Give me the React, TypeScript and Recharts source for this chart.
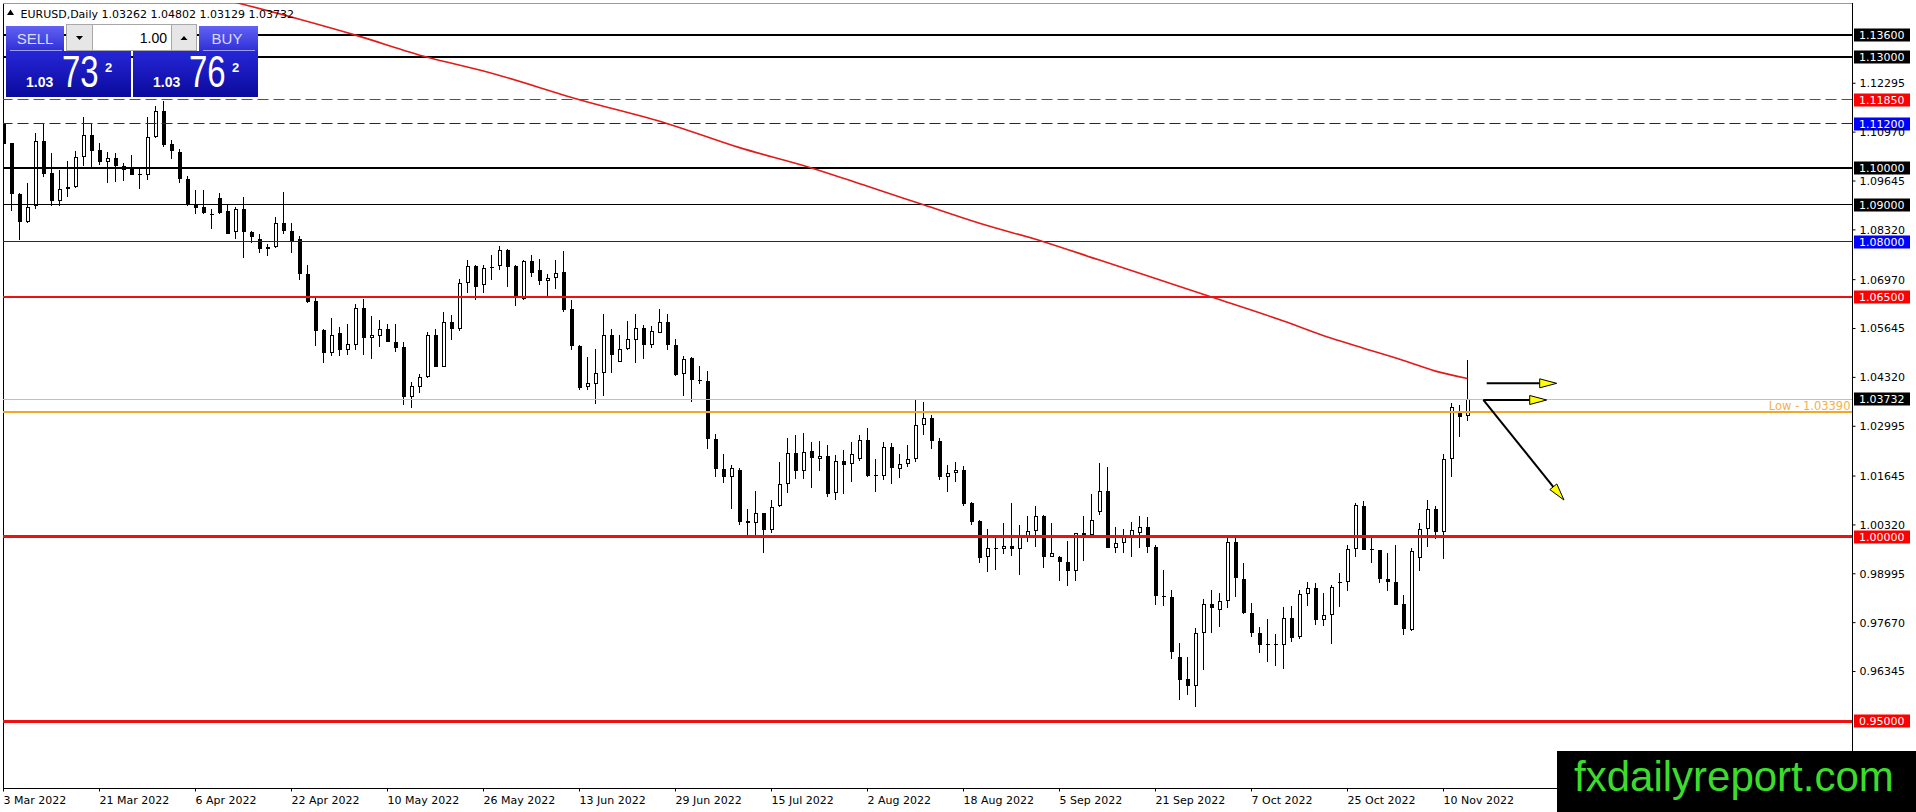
import React from 'react';
import { ComposedChart, Bar, Line, XAxis, YAxis, ReferenceLine } from 'recharts';

// ---- EURUSD daily candles (index 0 = 3 Mar 2022) ----
const opens = [
  1.1119, 1.1067, 1.0928, 1.0853, 1.0898, 1.1074, 1.0985, 1.0911, 1.0943, 1.0948,
  1.1029, 1.1090, 1.1049, 1.1015, 1.1027, 1.1006, 1.0997, 1.0984, 1.0980, 1.1083,
  1.1154, 1.1065, 1.1044, 1.0970, 1.0903, 1.0893, 1.0875, 1.0919, 1.0882, 1.0827,
  1.0888, 1.0827, 1.0808, 1.0781, 1.0785, 1.0851, 1.0829, 1.0807, 1.0711, 1.0638,
  1.0560, 1.0497, 1.0553, 1.0507, 1.0520, 1.0621, 1.0540, 1.0543, 1.0562, 1.0527,
  1.0514, 1.0379, 1.0405, 1.0433, 1.0548, 1.0461, 1.0583, 1.0564, 1.0689, 1.0735,
  1.0682, 1.0732, 1.0734, 1.0778, 1.0733, 1.0645, 1.0747, 1.0722, 1.0693, 1.0702,
  1.0717, 1.0617, 1.0516, 1.0405, 1.0415, 1.0445, 1.0548, 1.0475, 1.0510, 1.0533,
  1.0567, 1.0521, 1.0553, 1.0581, 1.0519, 1.0440, 1.0484, 1.0424, 1.0421, 1.0264,
  1.0183, 1.0163, 1.0181, 1.0043, 1.0037, 1.0064, 1.0017, 1.0084, 1.0142, 1.0226,
  1.0179, 1.0232, 1.0212, 1.0220, 1.0118, 1.0205, 1.0196, 1.0212, 1.0262, 1.0167,
  1.0165, 1.0244, 1.0183, 1.0196, 1.0212, 1.0302, 1.0321, 1.0259, 1.0163, 1.0172,
  1.0181, 1.0091, 1.0042, 0.9944, 0.9969, 0.9966, 0.9975, 0.9966, 0.9998, 1.0016,
  1.0056, 0.9946, 0.9946, 0.9931, 0.9906, 1.0009, 1.0005, 1.0066, 1.0124, 0.9969,
  0.9982, 0.9998, 1.0011, 1.0026, 0.9973, 0.9840, 0.9836, 0.9674, 0.9613, 0.9594,
  0.9739, 0.9817, 0.9800, 0.9825, 0.9985, 0.9885, 0.9793, 0.9739, 0.9710, 0.9707,
  0.9707, 0.9779, 0.9728, 0.9844, 0.9861, 0.9775, 0.9788, 0.9874, 0.9877, 0.9968,
  1.0083, 0.9968, 0.9963, 0.9885, 0.9877, 0.9818, 0.9748, 0.9942, 1.0020, 1.0074,
  1.0013, 1.0210, 1.0336, 1.03262,
];
const highs = [
  1.1122, 1.1068, 1.0931, 1.0958, 1.1094, 1.1120, 1.1041, 1.0993, 1.1020, 1.1047,
  1.1137, 1.1119, 1.1068, 1.1043, 1.1041, 1.1014, 1.1036, 1.0997, 1.1137, 1.1169,
  1.1181, 1.1076, 1.1051, 1.0979, 1.0939, 1.0939, 1.0888, 1.0932, 1.0903, 1.0894,
  1.0922, 1.0830, 1.0821, 1.0794, 1.0866, 1.0935, 1.0851, 1.0816, 1.0737, 1.0652,
  1.0562, 1.0594, 1.0569, 1.0578, 1.0632, 1.0644, 1.0599, 1.0587, 1.0576, 1.0578,
  1.0529, 1.0420, 1.0442, 1.0555, 1.0564, 1.0609, 1.0600, 1.0698, 1.0749, 1.0737,
  1.0737, 1.0763, 1.0787, 1.0780, 1.0738, 1.0749, 1.0765, 1.0752, 1.0713, 1.0749,
  1.0774, 1.0643, 1.0521, 1.0488, 1.0510, 1.0605, 1.0562, 1.0546, 1.0585, 1.0605,
  1.0573, 1.0571, 1.0617, 1.0605, 1.0535, 1.0489, 1.0486, 1.0463, 1.0449, 1.0278,
  1.0223, 1.0194, 1.0185, 1.0075, 1.0124, 1.0064, 1.0100, 1.0202, 1.0269, 1.0276,
  1.0280, 1.0257, 1.0259, 1.0250, 1.0221, 1.0235, 1.0256, 1.0277, 1.0294, 1.0210,
  1.0256, 1.0253, 1.0224, 1.0248, 1.0370, 1.0365, 1.0330, 1.0269, 1.0194, 1.0203,
  1.0193, 1.0095, 1.0045, 1.0021, 0.9996, 1.0036, 1.0092, 1.0032, 1.0056, 1.0082,
  1.0059, 1.0036, 0.9948, 0.9989, 1.0011, 1.0056, 1.0116, 1.0201, 1.0188, 1.0026,
  1.0020, 1.0041, 1.0056, 1.0053, 0.9978, 0.9910, 0.9856, 0.9712, 0.9674, 0.9752,
  0.9831, 0.9856, 0.9847, 0.9998, 0.9998, 0.9928, 0.9820, 0.9755, 0.9777, 0.9737,
  0.9809, 0.9813, 0.9856, 0.9877, 0.9874, 0.9847, 0.9868, 0.9901, 0.9978, 1.0092,
  1.0097, 0.9996, 0.9963, 0.9955, 0.9978, 0.9842, 0.9969, 1.0038, 1.0100, 1.0083,
  1.0224, 1.0363, 1.0357, 1.04802,
];
const lows = [
  1.1032, 1.0883, 1.0804, 1.0850, 1.0888, 1.0975, 1.0898, 1.0897, 1.0922, 1.0946,
  1.1004, 1.1000, 1.1008, 1.0958, 1.0961, 1.0964, 1.0980, 1.0942, 1.0967, 1.1081,
  1.1058, 1.1025, 1.0958, 1.0897, 1.0874, 1.0875, 1.0835, 1.0874, 1.0820, 1.0806,
  1.0755, 1.0796, 1.0770, 1.0762, 1.0783, 1.0821, 1.0770, 1.0697, 1.0635, 1.0516,
  1.0471, 1.0490, 1.0491, 1.0493, 1.0507, 1.0493, 1.0483, 1.0515, 1.0528, 1.0501,
  1.0357, 1.0350, 1.0391, 1.0429, 1.0461, 1.0459, 1.0533, 1.0558, 1.0662, 1.0643,
  1.0661, 1.0697, 1.0722, 1.0677, 1.0626, 1.0643, 1.0704, 1.0682, 1.0652, 1.0673,
  1.0609, 1.0507, 1.0397, 1.0397, 1.0361, 1.0382, 1.0444, 1.0473, 1.0506, 1.0470,
  1.0483, 1.0513, 1.0551, 1.0506, 1.0435, 1.0382, 1.0366, 1.0415, 1.0237, 1.0163,
  1.0145, 1.0074, 1.0032, 1.0005, 1.0005, 0.9955, 1.0009, 1.0080, 1.0119, 1.0157,
  1.0156, 1.0131, 1.0179, 1.0109, 1.0099, 1.0115, 1.0147, 1.0206, 1.0161, 1.0122,
  1.0154, 1.0142, 1.0160, 1.0190, 1.0203, 1.0277, 1.0239, 1.0154, 1.0122, 1.0147,
  1.0082, 1.0032, 0.9928, 0.9903, 0.9910, 0.9952, 0.9949, 0.9897, 0.9985, 0.9973,
  0.9915, 0.9944, 0.9879, 0.9865, 0.9879, 0.9933, 0.9996, 1.0059, 0.9969, 0.9955,
  0.9955, 0.9946, 0.9969, 0.9957, 0.9816, 0.9811, 0.9669, 0.9557, 0.9572, 0.9539,
  0.9638, 0.9739, 0.9755, 0.9808, 0.9836, 0.9791, 0.9728, 0.9685, 0.9660, 0.9650,
  0.9640, 0.9714, 0.9723, 0.9813, 0.9761, 0.9757, 0.9710, 0.9809, 0.9852, 0.9946,
  0.9963, 0.9928, 0.9874, 0.9854, 0.9814, 0.9734, 0.9743, 0.9906, 0.9973, 0.9993,
  0.9939, 1.0163, 1.0271, 1.03129,
];
const closes = [
  1.1065, 1.0929, 1.0853, 1.0895, 1.1074, 1.0983, 1.0910, 1.0943, 1.0949, 1.1030,
  1.1090, 1.1047, 1.1015, 1.1027, 1.1004, 1.0994, 1.0980, 1.0981, 1.1084, 1.1154,
  1.1063, 1.1045, 1.0969, 1.0902, 1.0892, 1.0878, 1.0873, 1.0879, 1.0822, 1.0888,
  1.0826, 1.0813, 1.0781, 1.0786, 1.0851, 1.0828, 1.0801, 1.0711, 1.0636, 1.0558,
  1.0498, 1.0546, 1.0507, 1.0522, 1.0621, 1.0540, 1.0546, 1.0562, 1.0528, 1.0512,
  1.0379, 1.0409, 1.0433, 1.0548, 1.0461, 1.0582, 1.0562, 1.0689, 1.0735, 1.0677,
  1.0729, 1.0728, 1.0778, 1.0731, 1.0650, 1.0747, 1.0715, 1.0693, 1.0702, 1.0716,
  1.0614, 1.0516, 1.0404, 1.0418, 1.0445, 1.0548, 1.0494, 1.0510, 1.0535, 1.0567,
  1.0521, 1.0557, 1.0581, 1.0521, 1.0438, 1.0483, 1.0426, 1.0421, 1.0264, 1.0183,
  1.0161, 1.0185, 1.0041, 1.0037, 1.0064, 1.0017, 1.0080, 1.0142, 1.0226, 1.0179,
  1.0229, 1.0214, 1.0220, 1.0116, 1.0205, 1.0195, 1.0224, 1.0262, 1.0165, 1.0165,
  1.0244, 1.0185, 1.0196, 1.0212, 1.0302, 1.0321, 1.0260, 1.0163, 1.0172, 1.0180,
  1.0089, 1.0040, 0.9941, 0.9969, 0.9966, 0.9974, 0.9966, 0.9998, 1.0016, 1.0056,
  0.9946, 0.9955, 0.9931, 0.9906, 1.0009, 1.0005, 1.0046, 1.0124, 0.9969, 0.9982,
  0.9998, 1.0018, 1.0026, 0.9971, 0.9838, 0.9836, 0.9688, 0.9611, 0.9594, 0.9739,
  0.9817, 0.9806, 0.9825, 0.9985, 0.9888, 0.9793, 0.9740, 0.9707, 0.9707, 0.9710,
  0.9779, 0.9725, 0.9844, 0.9861, 0.9775, 0.9788, 0.9863, 0.9877, 0.9968, 1.0086,
  0.9964, 0.9964, 0.9885, 0.9877, 0.9815, 0.9750, 0.9961, 1.0020, 1.0074, 1.0013,
  1.0210, 1.0352, 1.0325, 1.03732,
];

// ---- red moving average, read at these bar indices ----
const maIndex = [27, 37, 44, 53, 60, 72, 83, 92, 101, 108, 115, 122, 130, 137, 144, 151, 160, 166, 170, 175, 179, 183];
const maValues = [1.1460, 1.1403, 1.1360, 1.1300, 1.1263, 1.1185, 1.1120, 1.1055, 1.1000, 1.0950, 1.0900, 1.0850, 1.0800, 1.0750, 1.0700, 1.0650, 1.0585, 1.0538, 1.0511, 1.0478, 1.0449, 1.0429];

// ---- axes ----
const dateTicks = [0, 12, 24, 36, 48, 60, 72, 84, 96, 108, 120, 132, 144, 156, 168, 180];
const dateLabels = ['3 Mar 2022', '21 Mar 2022', '6 Apr 2022', '22 Apr 2022', '10 May 2022', '26 May 2022', '13 Jun 2022', '29 Jun 2022', '15 Jul 2022', '2 Aug 2022', '18 Aug 2022', '5 Sep 2022', '21 Sep 2022', '7 Oct 2022', '25 Oct 2022', '10 Nov 2022'];
const priceTicks = [1.12295, 1.1097, 1.09645, 1.0832, 1.0697, 1.05645, 1.0432, 1.02995, 1.01645, 1.0032, 0.98995, 0.9767, 0.96345];

// ---- horizontal levels ----
const levelValues = [1.136, 1.13, 1.1185, 1.112, 1.1, 1.09, 1.08, 1.065, 1.0, 0.95];
const bidPrice = 1.03732;
const lowLevel = 1.0339;

// ---- arrows (bar index, price) ----
const arrowFrom = [[185.4, 1.04159], [184.98, 1.03707], [184.98, 1.03707]];
const arrowTo = [[194.15, 1.04159], [192.9, 1.03707], [195.06, 1.00995]];

// ---- styles (not data) ----
const levelStyle = [
  { stroke: '#000000', w: 2, dash: undefined, tag: '#000000' },
  { stroke: '#000000', w: 2, dash: undefined, tag: '#000000' },
  { stroke: '#ee1111', w: 1, dash: '11 5', tag: '#ff0000' },
  { stroke: '#1414c0', w: 1, dash: '11 5', tag: '#0000ff' },
  { stroke: '#000000', w: 2, dash: undefined, tag: '#000000' },
  { stroke: '#000000', w: 1, dash: undefined, tag: '#000000' },
  { stroke: '#1818b4', w: 1, dash: undefined, tag: '#0000ff' },
  { stroke: '#ee1111', w: 2, dash: undefined, tag: '#ff0000' },
  { stroke: '#ee1111', w: 3, dash: undefined, tag: '#ff0000' },
  { stroke: '#ee1111', w: 3, dash: undefined, tag: '#ff0000' },
];

const FONT = 'DejaVu Sans, Verdana, sans-serif';
const SANS = 'Liberation Sans, Arial, sans-serif';
const X_DOMAIN: [number, number] = [-0.0625, 231.125];
const Y_DOMAIN: [number, number] = [0.931728, 1.144713];

const data = opens.map((o, i) => {
  const k = maIndex.indexOf(i);
  return {
    i,
    o,
    h: highs[i],
    l: lows[i],
    c: closes[i],
    range: [lows[i], highs[i]],
    ma: k >= 0 ? maValues[k] : null,
  };
});

const snap = (v: number, w: number) => (Math.round(w) % 2 === 1 ? Math.floor(v) + 0.5 : Math.round(v));

// crisp horizontal / vertical reference line
const SnapLine = (props: any) => {
  const { x1, y1, x2, y2, stroke, strokeWidth, strokeDasharray } = props;
  if (x1 == null) return null;
  const w = Number(strokeWidth) || 1;
  const horiz = Math.abs(y1 - y2) < 0.01;
  const sy = horiz ? snap(y1, w) : y1;
  const sx = horiz ? x1 : snap(x1, w);
  return (
    <line
      x1={horiz ? x1 : sx}
      x2={horiz ? x2 : sx}
      y1={horiz ? sy : y1}
      y2={horiz ? sy : y2}
      stroke={stroke}
      strokeWidth={w}
      strokeDasharray={strokeDasharray}
    />
  );
};

function Candle(props: any) {
  const { x, y, width, height, payload } = props;
  if (!payload || x == null) return null;
  const { o, h, l, c } = payload;
  const top = Math.min(y, y + height);
  const bot = Math.max(y, y + height);
  const k = h - l > 0 ? (bot - top) / (h - l) : 0;
  const py = (v: number) => top + (h - v) * k;
  const cx = Math.round(x + width / 2 - 0.5) + 0.5;
  let bt = Math.round(Math.min(py(o), py(c)));
  let bb = Math.round(Math.max(py(o), py(c)));
  if (bb - bt < 1) bb = bt + 1;
  const bull = c >= o;
  return (
    <g>
      <line x1={cx} x2={cx} y1={Math.round(top)} y2={Math.round(bot)} stroke="#000" strokeWidth={1} />
      <rect x={cx - 1.5} y={bt} width={4} height={bb - bt} fill="#000" />
      {bull && bb - bt > 2 ? (
        <rect x={cx - 0.5} y={bt + 1} width={2} height={bb - bt - 2} fill="#fff" />
      ) : null}
    </g>
  );
}

const DateTick = (props: any) => {
  const { x, y, payload } = props;
  const idx = dateTicks.indexOf(payload.value);
  return (
    <text x={x} y={y + 10} fill="#000" fontSize={11} fontFamily={FONT} textAnchor="start">
      {idx >= 0 ? dateLabels[idx] : ''}
    </text>
  );
};

const makeTag = (bg: string, text: string) => (props: any) => {
  const vb = props.viewBox || {};
  const right = (vb.x || 0) + (vb.width || 0);
  const yy = Math.round(vb.y || 0);
  return (
    <g>
      <rect x={right + 1.5} y={yy - 6.5} width={56} height={13} fill={bg} />
      <text x={right + 6.5} y={yy + 4} fill="#fff" fontSize={11} fontFamily={FONT}>
        {text}
      </text>
    </g>
  );
};

const lowLabel = (props: any) => {
  const vb = props.viewBox || {};
  const right = (vb.x || 0) + (vb.width || 0);
  return (
    <text x={right - 2} y={(vb.y || 0) - 2} fill="#f5b04a" fontSize={11.5} fontFamily={FONT} textAnchor="end">
      {'Low - ' + lowLevel.toFixed(5)}
    </text>
  );
};

const ArrowShape = (props: any) => {
  const { x1, y1, x2, y2 } = props;
  if (x1 == null) return null;
  const dx = x2 - x1;
  const dy = y2 - y1;
  const len = Math.sqrt(dx * dx + dy * dy) || 1;
  const ux = dx / len;
  const uy = dy / len;
  const hl = 17;
  const hw = 4.5;
  const bx = x2 - ux * hl;
  const by = y2 - uy * hl;
  const pts = `${x2},${y2} ${bx - uy * hw},${by + ux * hw} ${bx + uy * hw},${by - ux * hw}`;
  return (
    <g>
      <line x1={x1} y1={y1} x2={bx} y2={by} stroke="#000" strokeWidth={2} />
      <polygon points={pts} fill="#ffff00" stroke="#000" strokeWidth={1} />
    </g>
  );
};

function TradePanel() {
  return (
    <svg width={1916} height={812} style={{ position: 'absolute', left: 0, top: 0, pointerEvents: 'none' }}>
      <defs>
        <linearGradient id="hdr" x1="0" y1="0" x2="0" y2="1">
          <stop offset="0" stopColor="#6262f4" />
          <stop offset="1" stopColor="#2f2fd6" />
        </linearGradient>
        <linearGradient id="big" x1="0" y1="0" x2="0" y2="1">
          <stop offset="0" stopColor="#2626d8" />
          <stop offset="1" stopColor="#0a0a9c" />
        </linearGradient>
      </defs>
      {/* symbol header */}
      <polygon points="7,15 10.5,9.5 14,15" fill="#000" />
      <text x={20.5} y={18} fontSize={11} fontFamily={FONT} fill="#000">
        EURUSD,Daily  1.03262 1.04802 1.03129 1.03732
      </text>
      {/* SELL */}
      <rect x={6} y={26} width={58} height={25} fill="url(#hdr)" />
      <text x={35} y={44} fontSize={15} fontFamily={SANS} fill="#d8dcff" textAnchor="middle">SELL</text>
      <line x1={10} x2={62} y1={50.5} y2={50.5} stroke="#9a9cff" strokeWidth={1} />
      {/* lot input */}
      <rect x={66.5} y={24.5} width={26} height={26} fill="#e6e6e6" stroke="#a8a8a8" />
      <polygon points="76,36 83,36 79.5,40" fill="#000" />
      <rect x={92.5} y={24.5} width={79} height={26} fill="#ffffff" stroke="#a8a8a8" />
      <text x={167} y={43} fontSize={14} fontFamily={SANS} fill="#000" textAnchor="end">1.00</text>
      <rect x={171.5} y={24.5} width={25} height={26} fill="#e6e6e6" stroke="#a8a8a8" />
      <polygon points="180.5,40 187.5,40 184,36" fill="#000" />
      {/* BUY */}
      <rect x={199} y={26} width={59} height={25} fill="url(#hdr)" />
      <text x={227} y={44} fontSize={15} fontFamily={SANS} fill="#d8dcff" textAnchor="middle">BUY</text>
      <line x1={203} x2={255} y1={50.5} y2={50.5} stroke="#9a9cff" strokeWidth={1} />
      {/* big price boxes */}
      <rect x={6} y={51} width={125} height={46} fill="url(#big)" />
      <rect x={133} y={51} width={125} height={46} fill="url(#big)" />
      <text x={26} y={87} fontSize={14} fontWeight="bold" fontFamily={SANS} fill="#fff">1.03</text>
      <text transform="translate(62,87) scale(1,1.32)" x={0} y={0} fontSize={33} fontFamily={SANS} fill="#fff">73</text>
      <text x={105} y={72} fontSize={13} fontWeight="bold" fontFamily={SANS} fill="#fff">2</text>
      <text x={153} y={87} fontSize={14} fontWeight="bold" fontFamily={SANS} fill="#fff">1.03</text>
      <text transform="translate(189,87) scale(1,1.32)" x={0} y={0} fontSize={33} fontFamily={SANS} fill="#fff">76</text>
      <text x={232} y={72} fontSize={13} fontWeight="bold" fontFamily={SANS} fill="#fff">2</text>
      {/* watermark */}
      <rect x={1557} y={751} width={359} height={61} fill="#000" />
      <text x={1574} y={791} fontSize={42} fontFamily={SANS} fill="#3cdc2a">fxdailyreport.com</text>
    </svg>
  );
}

export default function App() {
  return (
    <div style={{ position: 'absolute', left: 0, top: 0, width: 1916, height: 812, background: '#fff', overflow: 'hidden' }}>
      <ComposedChart
        width={1916}
        height={812}
        data={data}
        margin={{ top: 3, right: 0, bottom: 0, left: 3 }}
        style={{ background: '#fff' }}
      >
        <XAxis
          type="number"
          dataKey="i"
          domain={X_DOMAIN}
          allowDataOverflow
          ticks={dateTicks}
          interval={0}
          tick={<DateTick />}
          tickSize={3}
          tickMargin={2}
          tickLine={{ stroke: '#000' }}
          axisLine={{ stroke: '#000' }}
          height={23.5}
        />
        <YAxis
          orientation="right"
          type="number"
          domain={Y_DOMAIN}
          allowDataOverflow
          ticks={priceTicks}
          interval={0}
          width={63.5}
          tickSize={3}
          tickMargin={4}
          tickLine={{ stroke: '#000' }}
          axisLine={{ stroke: '#000' }}
          tick={{ fill: '#000', fontSize: 11, fontFamily: FONT }}
          tickFormatter={(v: number) => v.toFixed(5)}
        />
        <ReferenceLine x={X_DOMAIN[0]} stroke="#000" strokeWidth={1} ifOverflow="visible" shape={(p: any) => <SnapLine {...p} />} />
        <ReferenceLine y={Y_DOMAIN[1]} stroke="#c8964a" strokeWidth={1} ifOverflow="visible" shape={(p: any) => <SnapLine {...p} />} />
        <Bar dataKey="range" barSize={4} shape={(p: any) => <Candle {...p} />} isAnimationActive={false} />
        {levelValues.map((v, k) => (
          <ReferenceLine
            key={'lv' + k}
            y={v}
            stroke={levelStyle[k].stroke}
            strokeWidth={levelStyle[k].w}
            strokeDasharray={levelStyle[k].dash}
            shape={(p: any) => <SnapLine {...p} />}
            label={makeTag(levelStyle[k].tag, v.toFixed(5))}
          />
        ))}
        <ReferenceLine y={bidPrice} stroke="#c0c0c0" strokeWidth={1} shape={(p: any) => <SnapLine {...p} />} label={makeTag('#000000', bidPrice.toFixed(5))} />
        <ReferenceLine y={lowLevel} stroke="#f5a623" strokeWidth={2} shape={(p: any) => <SnapLine {...p} />} label={lowLabel} />
        <Line
          dataKey="ma"
          type="monotone"
          stroke="#e21a1a"
          strokeWidth={1.6}
          dot={false}
          activeDot={false}
          connectNulls
          isAnimationActive={false}
        />
        {arrowFrom.map((s, k) => (
          <ReferenceLine
            key={'ar' + k}
            segment={[{ x: s[0], y: s[1] }, { x: arrowTo[k][0], y: arrowTo[k][1] }]}
            ifOverflow="visible"
            shape={(p: any) => <ArrowShape {...p} />}
          />
        ))}
      </ComposedChart>
      <TradePanel />
    </div>
  );
}
